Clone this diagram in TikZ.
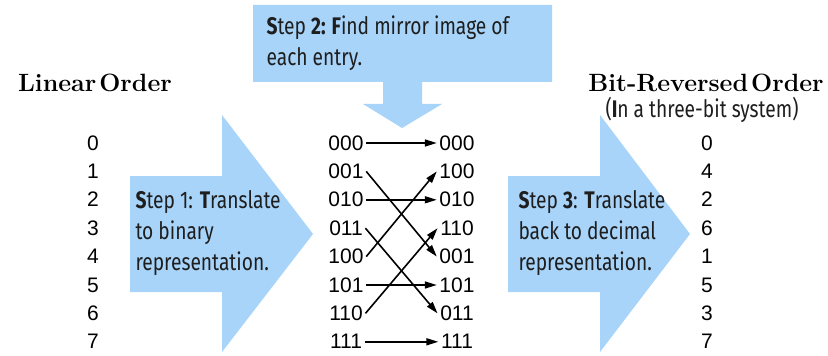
\documentclass[tikz,border=0pt]{standalone}
\usepackage{fontspec}
\newfontfamily\digitfont{Liberation Sans}
\newfontfamily\stepfont[FakeStretch=0.8]{Fira Sans}
\usetikzlibrary{arrows.meta,positioning}
\definecolor{stepblue}{RGB}{168,212,250}
\definecolor{inkgray}{RGB}{30,30,30}

\begin{document}
\begin{tikzpicture}[x=1pt, y=-1pt,
  num/.style={inner xsep=2.5pt, inner ysep=0pt, minimum height=28pt, text height=14pt, text depth=0pt, font=\digitfont\fontsize{21}{21}\selectfont},
  steptext/.style={align=left, anchor=west, text=inkgray, font=\stepfont\fontsize{24}{31}\selectfont},
  title/.style={font=\bfseries\fontsize{25}{25}\selectfont},
  arr/.style={-{Triangle[length=12pt, width=7pt]}, line width=1.6pt}
]
\fill[white] (0,0) rectangle (828,352);

% blue step arrows
\fill[stepblue] (130,176) -- (222,176) -- (222,115) -- (313,234) -- (222,352) -- (222,292) -- (130,292) -- cycle;
\fill[stepblue] (253,5) -- (552,5) -- (552,82) -- (422,82) -- (422,104) -- (442,104) -- (402,128) -- (363,104) -- (383,104) -- (383,82) -- (253,82) -- cycle;
\fill[stepblue] (508,176) -- (600,176) -- (600,115) -- (690,234) -- (600,352) -- (600,292) -- (508,292) -- cycle;

\node[steptext] (s1) at (132,233) {\textbf{S}tep 1: \textbf{T}ranslate\\to binary\\representation.};
\node[steptext] (s2) at (263,43) {\textbf{S}tep \textbf{2: F}ind mirror image of\\each entry.};
\node[steptext] (s3) at (515,233) {\textbf{S}tep \textbf{3}: \textbf{T}ranslate\\back to decimal\\representation.};

% titles
\node[title] (lin) at (95,83) {Linear\hspace{0.12em}Order};
\node[title] (rev) at (706,83) {Bit-Reversed\hspace{0.12em}Order};
\node[steptext, anchor=center, font=\stepfont\fontsize{24}{24}\selectfont] (sys) at (702,110) {(\textbf{I}n a three-bit system)};

% linear order
\node[num] (l0) at (93,143) {0};
\node[num, below=0pt of l0] (l1) {1};
\node[num, below=0pt of l1] (l2) {2};
\node[num, below=0pt of l2] (l3) {3};
\node[num, below=0pt of l3] (l4) {4};
\node[num, below=0pt of l4] (l5) {5};
\node[num, below=0pt of l5] (l6) {6};
\node[num, below=0pt of l6] (l7) {7};

% binary entries
\node[num] (b0) at (346,143) {000};
\node[num, below=0pt of b0] (b1) {001};
\node[num, below=0pt of b1] (b2) {010};
\node[num, below=0pt of b2] (b3) {011};
\node[num, below=0pt of b3] (b4) {100};
\node[num, below=0pt of b4] (b5) {101};
\node[num, below=0pt of b5] (b6) {110};
\node[num, below=0pt of b6] (b7) {111};

% mirrored entries
\node[num] (c0) at (457,143) {000};
\node[num, below=0pt of c0] (c1) {100};
\node[num, below=0pt of c1] (c2) {010};
\node[num, below=0pt of c2] (c3) {110};
\node[num, below=0pt of c3] (c4) {001};
\node[num, below=0pt of c4] (c5) {101};
\node[num, below=0pt of c5] (c6) {011};
\node[num, below=0pt of c6] (c7) {111};

% bit-reversed order
\node[num] (d0) at (707,143) {0};
\node[num, below=0pt of d0] (d1) {4};
\node[num, below=0pt of d1] (d2) {2};
\node[num, below=0pt of d2] (d3) {6};
\node[num, below=0pt of d3] (d4) {1};
\node[num, below=0pt of d4] (d5) {5};
\node[num, below=0pt of d5] (d6) {3};
\node[num, below=0pt of d6] (d7) {7};

\draw[arr] (b0.east) -- (c0.west);
\draw[arr] (b1.east) -- (c4.west);
\draw[arr] (b2.east) -- (c2.west);
\draw[arr] (b3.east) -- (c6.west);
\draw[arr] (b4.east) -- (c1.west);
\draw[arr] (b5.east) -- (c5.west);
\draw[arr] (b6.east) -- (c3.west);
\draw[arr] (b7.east) -- (c7.west);
\end{tikzpicture}
\end{document}
